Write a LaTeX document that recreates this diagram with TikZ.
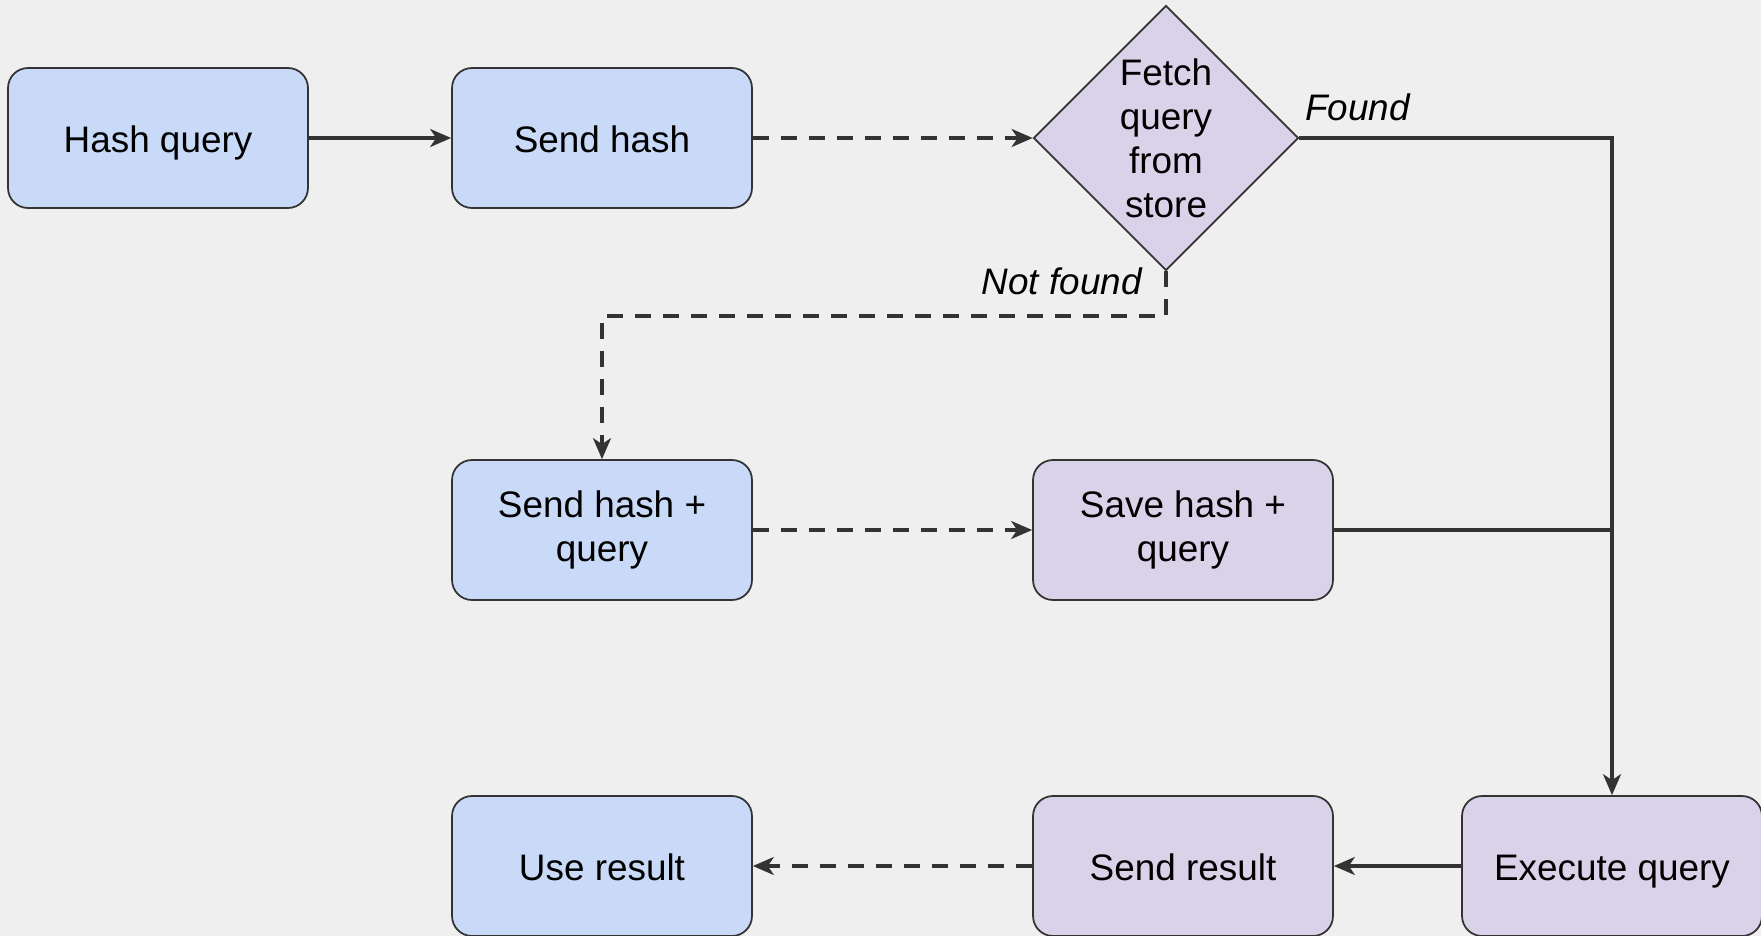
\documentclass[tikz,border=0pt]{standalone}
\usepackage{fontspec}
\setmainfont{Liberation Sans}
\usetikzlibrary{arrows.meta,shapes.geometric}
\definecolor{bg}{HTML}{EFEFEF}
\definecolor{client}{HTML}{C9DAF8}
\definecolor{server}{HTML}{D9D2E9}
\definecolor{ink}{HTML}{333333}
\newcommand\linestrut{\rule[-4.4pt]{0pt}{25pt}}
\begin{document}
\begin{tikzpicture}[x=0.02cm,y=-0.02cm,
    box/.style={draw=ink,line width=1pt,rounded corners=0.4cm,minimum width=6cm,minimum height=2.8cm,align=center,font=\fontsize{21}{25}\selectfont,execute at begin node=\linestrut,execute at end node=\linestrut},
    clientbox/.style={box,fill=client},
    serverbox/.style={box,fill=server},
    decision/.style={diamond,draw=ink,line width=1pt,fill=server,minimum size=5.3cm,aspect=1,inner sep=0pt,align=center,font=\fontsize{21}{25}\selectfont},
    link/.style={ink,line width=1.8pt},
    flow/.style={link,-{Stealth[length=0.42cm,width=0.36cm,inset=0.12cm]}},
    reply/.style={flow,dash pattern=on 0.32cm off 0.24cm},
    lbl/.style={font=\fontsize{21}{25}\selectfont\itshape}]
    \fill[bg] (0,0) rectangle (1761,936);
    \useasboundingbox (0,0) rectangle (1761,936);
    \node[clientbox] (hash) at (158,138) {Hash query};
    \node[clientbox] (send) at (602,138) {Send hash};
    \node[decision] (fetch) at (1166,138) {Fetch\\query\\from\\store};
    \node[clientbox] (sendq) at (602,530) {Send hash +\\query};
    \node[serverbox] (save) at (1183,530) {Save hash +\\query};
    \node[clientbox] (use) at (602,866) {Use result};
    \node[serverbox] (sendres) at (1183,866) {Send result};
    \node[serverbox] (exec) at (1612,866) {Execute query};
    \node[lbl,anchor=west] (found) at (1299,107) {Found};
    \node[lbl,anchor=east] (notfound) at (1148,281) {Not found};
    \coordinate (split) at (1166,316);
    \draw[flow] (hash) -- (send);
    \draw[reply] (send) -- (fetch);
    \draw[flow] (fetch.east) -| (exec);
    \draw[reply] (fetch.south) -- (split) -| (sendq);
    \draw[reply] (sendq) -- (save);
    \draw[link] (save.east) -- (save.east -| exec);
    \draw[flow] (exec) -- (sendres);
    \draw[reply] (sendres) -- (use);
\end{tikzpicture}
\end{document}
